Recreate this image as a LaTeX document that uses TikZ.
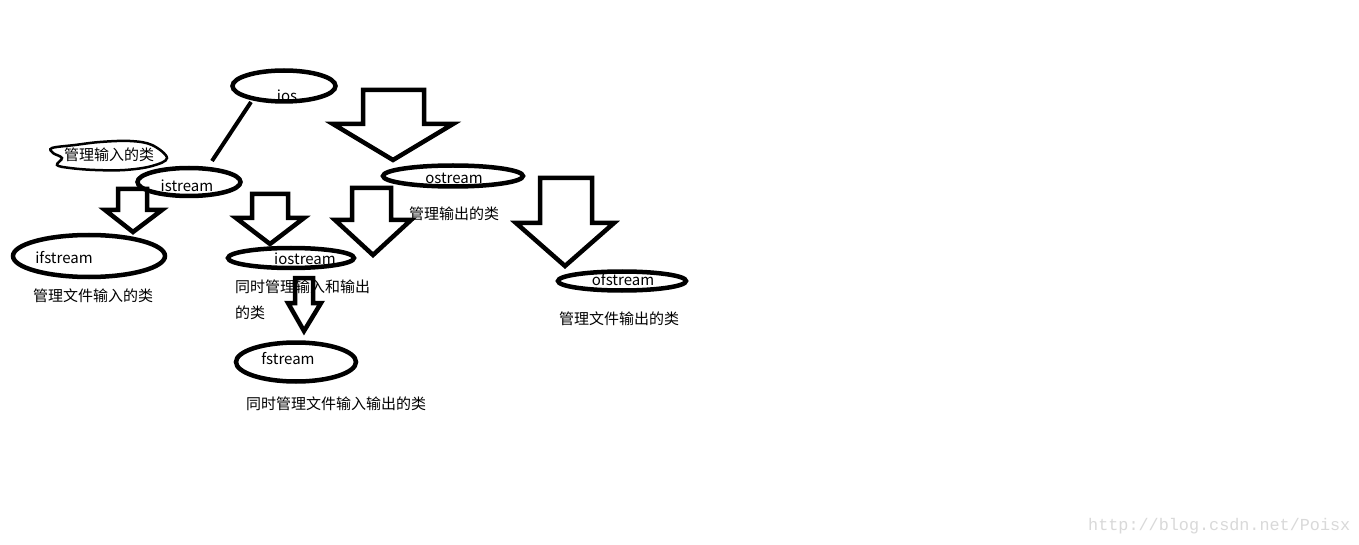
\documentclass[tikz,border=0pt]{standalone}
\usepackage{fontspec}
\setmainfont{Noto Sans CJK SC}
\newfontfamily\wmfont{Liberation Mono}
\usetikzlibrary{shapes.geometric}
\begin{document}
\begin{tikzpicture}[x=1pt,y=-1pt,
  oval/.style={draw=black,line width=4.5pt,ellipse,inner sep=0pt},
  lbl/.style={font=\fontsize{15pt}{17pt}\selectfont,inner sep=0pt,anchor=base},
  cn/.style={font=\fontsize{15pt}{17pt}\selectfont,inner sep=0pt,anchor=base west},
  barrow/.style={draw=black,line width=4.5pt,line join=miter,fill=white}]
\useasboundingbox[fill=white] (0,0) rectangle (1359,545);
% block arrows
\newcommand{\barr}[8]{\draw[barrow] (#1,#3) -- (#2,#3) -- (#2,#4) -- (#6,#4) -- (#7,#8) -- (#5,#4) -- (#1,#4) -- cycle;}
\barr{363}{424}{90}{124}{333}{453}{393}{160}
\barr{118}{147}{189}{210}{105}{162}{133}{232}
\barr{252}{288}{194}{218}{236}{304}{270}{244}
\barr{352}{391}{188}{220}{335}{411}{373}{255}
\barr{540}{592}{178}{223}{516}{614}{565}{266}
% ellipses
\node[oval,minimum width=103pt,minimum height=31pt] (ios) at (284,86) {};
\node[oval,minimum width=103pt,minimum height=28pt] (istream) at (189,182) {};
\node[oval,minimum width=152pt,minimum height=42pt] (ifstream) at (89,256) {};
\node[oval,minimum width=126pt,minimum height=20pt] (iostream) at (291,258) {};
\node[oval,minimum width=140pt,minimum height=21pt] (ostream) at (453,176) {};
\node[oval,minimum width=128pt,minimum height=19pt] (ofstream) at (622,281) {};
\node[oval,minimum width=120pt,minimum height=39pt] (fstream) at (296,362) {};
\barr{295}{313}{278}{303}{288}{321}{304}{331}
% connector ios - istream
\coordinate (a1) at (251,102);
\coordinate (a2) at (212,161);
\draw[line width=4pt] (a1) -- (a2);
% blob
\draw[line width=2.5pt,fill=white] plot[smooth cycle,tension=0.6] coordinates {(52,148) (75,145) (100,142) (130,141) (152,145) (167,158) (152,166) (125,170) (95,170) (70,168) (57,165) (62,158) (53,153)};
% labels
\node[lbl] (tios) at (287,102) {ios};
\node[lbl] (tistream) at (187,192) {istream};
\node[lbl] (tifstream) at (64,263) {ifstream};
\node[lbl] (tiostream) at (305,265) {iostream};
\node[lbl] (tostream) at (454,184) {ostream};
\node[lbl] (tofstream) at (623,285) {ofstream};
\node[lbl] (tfstream) at (288,364) {fstream};
\node[cn] (c1) at (64,161) {管理输入的类};
\node[cn] (c2) at (33,301) {管理文件输入的类};
\node[cn] (c3) at (235,292) {同时管理输入和输出};
\node[cn] (c4) at (235,318) {的类};
\node[cn] (c5) at (409,220) {管理输出的类};
\node[cn] (c6) at (559,324) {管理文件输出的类};
\node[cn] (c7) at (246,409) {同时管理文件输入输出的类};
\node[font=\wmfont\fontsize{16.8pt}{18pt}\selectfont,text=black!15,inner sep=0pt,anchor=base west] (wm) at (1088,530) {http://blog.csdn.net/Poisx};
\end{tikzpicture}
\end{document}
